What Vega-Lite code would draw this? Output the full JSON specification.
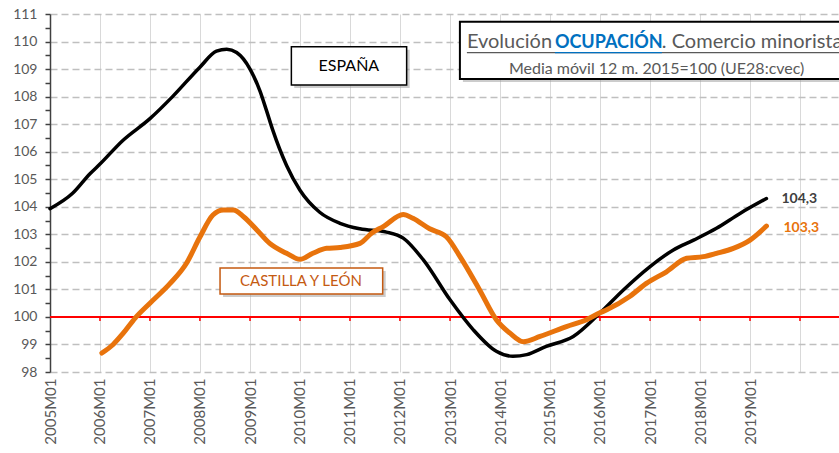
{
  "$schema": "https://vega.github.io/schema/vega-lite/v6.json",
  "width": 789,
  "height": 358,
  "autosize": {"type": "none"},
  "padding": {"left": 50, "top": 14, "right": 0, "bottom": 81},
  "background": "white",
  "config": {"view": {"stroke": null}, "font": "Lato"},
  "datasets": {
    "series": [
      {"serie": "España", "fecha": "2005-01-01", "valor": 103.93},
      {"serie": "España", "fecha": "2005-06-15", "valor": 104.49},
      {"serie": "España", "fecha": "2005-10-20", "valor": 105.2},
      {"serie": "España", "fecha": "2006-01-01", "valor": 105.55},
      {"serie": "España", "fecha": "2006-06-15", "valor": 106.4},
      {"serie": "España", "fecha": "2007-01-01", "valor": 107.2},
      {"serie": "España", "fecha": "2007-06-15", "valor": 108.0},
      {"serie": "España", "fecha": "2008-01-01", "valor": 109.07},
      {"serie": "España", "fecha": "2008-05-01", "valor": 109.65},
      {"serie": "España", "fecha": "2008-07-15", "valor": 109.72},
      {"serie": "España", "fecha": "2008-09-25", "valor": 109.6},
      {"serie": "España", "fecha": "2009-01-01", "valor": 109.0},
      {"serie": "España", "fecha": "2009-03-15", "valor": 108.2},
      {"serie": "España", "fecha": "2009-05-01", "valor": 107.5},
      {"serie": "España", "fecha": "2009-06-15", "valor": 106.8},
      {"serie": "España", "fecha": "2009-09-25", "valor": 105.5},
      {"serie": "España", "fecha": "2010-01-01", "valor": 104.6},
      {"serie": "España", "fecha": "2010-05-25", "valor": 103.8},
      {"serie": "España", "fecha": "2010-10-20", "valor": 103.4},
      {"serie": "España", "fecha": "2011-03-15", "valor": 103.2},
      {"serie": "España", "fecha": "2011-09-25", "valor": 103.08},
      {"serie": "España", "fecha": "2012-01-25", "valor": 102.86},
      {"serie": "España", "fecha": "2012-06-20", "valor": 102.07},
      {"serie": "España", "fecha": "2013-01-01", "valor": 100.62},
      {"serie": "España", "fecha": "2013-06-20", "valor": 99.53},
      {"serie": "España", "fecha": "2013-12-05", "valor": 98.75},
      {"serie": "España", "fecha": "2014-04-05", "valor": 98.57},
      {"serie": "España", "fecha": "2014-07-15", "valor": 98.63},
      {"serie": "España", "fecha": "2014-12-05", "valor": 98.93},
      {"serie": "España", "fecha": "2015-06-20", "valor": 99.29},
      {"serie": "España", "fecha": "2016-01-01", "valor": 100.14},
      {"serie": "España", "fecha": "2016-06-20", "valor": 100.98},
      {"serie": "España", "fecha": "2017-01-01", "valor": 101.83},
      {"serie": "España", "fecha": "2017-06-20", "valor": 102.43},
      {"serie": "España", "fecha": "2017-11-15", "valor": 102.79},
      {"serie": "España", "fecha": "2018-05-01", "valor": 103.22},
      {"serie": "España", "fecha": "2018-10-20", "valor": 103.76},
      {"serie": "España", "fecha": "2019-05-01", "valor": 104.3},
      {"serie": "Castilla y León", "fecha": "2006-01-15", "valor": 98.69},
      {"serie": "Castilla y León", "fecha": "2006-04-05", "valor": 98.99},
      {"serie": "Castilla y León", "fecha": "2006-06-20", "valor": 99.41},
      {"serie": "Castilla y León", "fecha": "2006-09-15", "valor": 99.96},
      {"serie": "Castilla y León", "fecha": "2007-01-01", "valor": 100.5},
      {"serie": "Castilla y León", "fecha": "2007-05-25", "valor": 101.2},
      {"serie": "Castilla y León", "fecha": "2007-09-25", "valor": 101.95},
      {"serie": "Castilla y León", "fecha": "2008-01-01", "valor": 102.9},
      {"serie": "Castilla y León", "fecha": "2008-04-05", "valor": 103.7},
      {"serie": "Castilla y León", "fecha": "2008-06-20", "valor": 103.88},
      {"serie": "Castilla y León", "fecha": "2008-09-01", "valor": 103.88},
      {"serie": "Castilla y León", "fecha": "2008-11-15", "valor": 103.64},
      {"serie": "Castilla y León", "fecha": "2009-02-20", "valor": 103.16},
      {"serie": "Castilla y León", "fecha": "2009-05-25", "valor": 102.67},
      {"serie": "Castilla y León", "fecha": "2009-09-25", "valor": 102.31},
      {"serie": "Castilla y León", "fecha": "2010-01-01", "valor": 102.09},
      {"serie": "Castilla y León", "fecha": "2010-04-05", "valor": 102.31},
      {"serie": "Castilla y León", "fecha": "2010-07-15", "valor": 102.49},
      {"serie": "Castilla y León", "fecha": "2010-10-20", "valor": 102.52},
      {"serie": "Castilla y León", "fecha": "2011-03-15", "valor": 102.67},
      {"serie": "Castilla y León", "fecha": "2011-06-10", "valor": 103.05},
      {"serie": "Castilla y León", "fecha": "2011-09-01", "valor": 103.28},
      {"serie": "Castilla y León", "fecha": "2012-01-25", "valor": 103.72},
      {"serie": "Castilla y León", "fecha": "2012-04-05", "valor": 103.58},
      {"serie": "Castilla y León", "fecha": "2012-08-05", "valor": 103.2},
      {"serie": "Castilla y León", "fecha": "2012-12-05", "valor": 102.91},
      {"serie": "Castilla y León", "fecha": "2013-03-15", "valor": 102.19},
      {"serie": "Castilla y León", "fecha": "2013-08-05", "valor": 100.98},
      {"serie": "Castilla y León", "fecha": "2013-12-05", "valor": 99.9},
      {"serie": "Castilla y León", "fecha": "2014-03-15", "valor": 99.41},
      {"serie": "Castilla y León", "fecha": "2014-06-20", "valor": 99.1},
      {"serie": "Castilla y León", "fecha": "2014-10-20", "valor": 99.29},
      {"serie": "Castilla y León", "fecha": "2015-05-01", "valor": 99.65},
      {"serie": "Castilla y León", "fecha": "2015-09-25", "valor": 99.9},
      {"serie": "Castilla y León", "fecha": "2016-01-01", "valor": 100.15},
      {"serie": "Castilla y León", "fecha": "2016-02-20", "valor": 100.26},
      {"serie": "Castilla y León", "fecha": "2016-08-05", "valor": 100.74},
      {"serie": "Castilla y León", "fecha": "2016-12-05", "valor": 101.22},
      {"serie": "Castilla y León", "fecha": "2017-05-01", "valor": 101.64},
      {"serie": "Castilla y León", "fecha": "2017-09-25", "valor": 102.13},
      {"serie": "Castilla y León", "fecha": "2018-01-25", "valor": 102.19},
      {"serie": "Castilla y León", "fecha": "2018-05-01", "valor": 102.31},
      {"serie": "Castilla y León", "fecha": "2018-09-01", "valor": 102.49},
      {"serie": "Castilla y León", "fecha": "2019-01-01", "valor": 102.79},
      {"serie": "Castilla y León", "fecha": "2019-05-01", "valor": 103.3}
    ],
    "fin": [
      {"serie": "España", "fecha": "2019-05-01", "valor": 104.3, "texto": "104,3"},
      {"serie": "Castilla y León", "fecha": "2019-05-01", "valor": 103.3, "texto": "103,3"}
    ],
    "anios": [
      {"fecha": "2006-01-01"}, {"fecha": "2007-01-01"}, {"fecha": "2008-01-01"},
      {"fecha": "2009-01-01"}, {"fecha": "2010-01-01"}, {"fecha": "2011-01-01"},
      {"fecha": "2012-01-01"}, {"fecha": "2013-01-01"}, {"fecha": "2014-01-01"},
      {"fecha": "2015-01-01"}, {"fecha": "2016-01-01"}, {"fecha": "2017-01-01"},
      {"fecha": "2018-01-01"}, {"fecha": "2019-01-01"}, {"fecha": "2020-01-01"}
    ]
  },
  "layer": [
    {
      "data": {"name": "series"},
      "mark": {"type": "line", "interpolate": "monotone", "strokeOpacity": 0},
      "encoding": {
        "x": {
          "field": "fecha",
          "type": "temporal",
          "scale": {
            "type": "utc",
            "domain": [
              {"year": 2005, "month": 1, "date": 1, "utc": true},
              {"year": 2020, "month": 10, "date": 12, "utc": true}
            ]
          },
          "axis": {
            "tickCount": {"interval": "year", "step": 1},
            "labelExpr": "utcyear(datum.value) > 2019 ? '' : utcFormat(datum.value, '%YM%m')",
            "labelAngle": -90,
            "labelFontSize": 15,
            "labelColor": "#595959",
            "labelPadding": 6,
            "labelOverlap": false,
            "ticks": false,
            "domain": false,
            "grid": true,
            "gridColor": "#d9d9d9",
            "gridWidth": 1,
            "title": null
          }
        },
        "y": {
          "field": "valor",
          "type": "quantitative",
          "scale": {"domain": [98, 111], "nice": false, "zero": false},
          "axis": {
            "tickCount": 26,
            "labelExpr": "datum.value % 1 === 0 ? format(datum.value, 'd') : ''",
            "labelOverlap": false,
            "labelFontSize": 14,
            "labelColor": "#595959",
            "labelPadding": 8,
            "tickSize": 5,
            "tickColor": "#404040",
            "tickWidth": 1.5,
            "domainColor": "#404040",
            "domainWidth": 1.5,
            "grid": true,
            "gridDash": [7, 4],
            "gridColor": "#bfbfbf",
            "gridWidth": 1.5,
            "gridOpacity": {"condition": {"test": "datum.value % 1 !== 0 || datum.value === 100", "value": 0}, "value": 1},
            "title": null
          }
        },
        "detail": {"field": "serie", "type": "nominal"}
      }
    },
    {
      "data": {"values": [{}]},
      "mark": {"type": "rule", "color": "#FF0000", "strokeWidth": 2},
      "encoding": {"y": {"datum": 100, "type": "quantitative"}}
    },
    {
      "data": {"name": "anios"},
      "mark": {"type": "rule", "color": "#FF0000", "strokeWidth": 1.5},
      "encoding": {
        "x": {"field": "fecha", "type": "temporal"},
        "y": {"datum": 100, "type": "quantitative"},
        "y2": {"datum": 99.85}
      }
    },
    {
      "data": {"name": "series"},
      "mark": {"type": "line", "interpolate": "monotone", "strokeCap": "round"},
      "encoding": {
        "x": {"field": "fecha", "type": "temporal"},
        "y": {"field": "valor", "type": "quantitative"},
        "color": {
          "field": "serie",
          "type": "nominal",
          "scale": {"domain": ["España", "Castilla y León"], "range": ["#000000", "#E8730C"]},
          "legend": null
        },
        "strokeWidth": {
          "field": "serie",
          "type": "nominal",
          "scale": {"domain": ["España", "Castilla y León"], "range": [3.5, 5]},
          "legend": null
        }
      }
    },
    {
      "data": {"name": "fin"},
      "transform": [{"filter": "datum.serie === 'España'"}],
      "mark": {"type": "text", "align": "left", "baseline": "middle", "dx": 15, "fontSize": 14, "fontWeight": "bold", "color": "#404040"},
      "encoding": {
        "x": {"field": "fecha", "type": "temporal"},
        "y": {"field": "valor", "type": "quantitative"},
        "text": {"field": "texto"}
      }
    },
    {
      "data": {"name": "fin"},
      "transform": [{"filter": "datum.serie === 'Castilla y León'"}],
      "mark": {"type": "text", "align": "left", "baseline": "middle", "dx": 17, "dy": 2, "fontSize": 14, "fontWeight": "bold", "color": "#E8730C"},
      "encoding": {
        "x": {"field": "fecha", "type": "temporal"},
        "y": {"field": "valor", "type": "quantitative"},
        "text": {"field": "texto"}
      }
    },
    {
      "data": {"values": [{}]},
      "mark": {"type": "rect", "fill": "#9a9a9a", "opacity": 0.5},
      "encoding": {
        "x": {"datum": {"year": 2009, "month": 11, "date": 20, "utc": true}, "type": "temporal"},
        "x2": {"datum": {"year": 2012, "month": 3, "date": 12, "utc": true}},
        "y": {"datum": 109.7, "type": "quantitative"},
        "y2": {"datum": 108.31}
      }
    },
    {
      "data": {"values": [{}]},
      "mark": {"type": "rect", "fill": "white", "stroke": "#000000", "strokeWidth": 1.5},
      "encoding": {
        "x": {"datum": {"year": 2009, "month": 10, "date": 30, "utc": true}, "type": "temporal"},
        "x2": {"datum": {"year": 2012, "month": 2, "date": 19, "utc": true}},
        "y": {"datum": 109.81, "type": "quantitative"},
        "y2": {"datum": 108.42}
      }
    },
    {
      "data": {"values": [{}]},
      "mark": {"type": "text", "text": "ESPAÑA", "fontSize": 16, "color": "#000000", "align": "center", "baseline": "middle"},
      "encoding": {
        "x": {"datum": {"year": 2010, "month": 12, "date": 24, "utc": true}, "type": "temporal"},
        "y": {"datum": 109.11, "type": "quantitative"}
      }
    },
    {
      "data": {"values": [{}]},
      "mark": {"type": "rect", "fill": "#9a9a9a", "opacity": 0.5},
      "encoding": {
        "x": {"datum": {"year": 2008, "month": 6, "date": 18, "utc": true}, "type": "temporal"},
        "x2": {"datum": {"year": 2011, "month": 9, "date": 19, "utc": true}},
        "y": {"datum": 101.67, "type": "quantitative"},
        "y2": {"datum": 100.72}
      }
    },
    {
      "data": {"values": [{}]},
      "mark": {"type": "rect", "fill": "white", "stroke": "#C55A11", "strokeWidth": 1.5},
      "encoding": {
        "x": {"datum": {"year": 2008, "month": 5, "date": 27, "utc": true}, "type": "temporal"},
        "x2": {"datum": {"year": 2011, "month": 8, "date": 28, "utc": true}},
        "y": {"datum": 101.78, "type": "quantitative"},
        "y2": {"datum": 100.83}
      }
    },
    {
      "data": {"values": [{}]},
      "mark": {"type": "text", "text": "CASTILLA Y LEÓN", "fontSize": 15, "color": "#C55A11", "align": "center", "baseline": "middle"},
      "encoding": {
        "x": {"datum": {"year": 2010, "month": 1, "date": 8, "utc": true}, "type": "temporal"},
        "y": {"datum": 101.31, "type": "quantitative"}
      }
    },
    {
      "data": {"values": [{}]},
      "mark": {"type": "rect", "fill": "#9a9a9a", "opacity": 0.5},
      "encoding": {
        "x": {"datum": {"year": 2013, "month": 4, "date": 5, "utc": true}, "type": "temporal"},
        "x2": {"datum": {"year": 2021, "month": 6, "date": 1, "utc": true}},
        "y": {"datum": 110.61, "type": "quantitative"},
        "y2": {"datum": 108.53}
      }
    },
    {
      "data": {"values": [{}]},
      "mark": {"type": "rect", "fill": "white", "stroke": "#000000", "strokeWidth": 2},
      "encoding": {
        "x": {"datum": {"year": 2013, "month": 3, "date": 14, "utc": true}, "type": "temporal"},
        "x2": {"datum": {"year": 2021, "month": 6, "date": 1, "utc": true}},
        "y": {"datum": 110.72, "type": "quantitative"},
        "y2": {"datum": 108.64}
      }
    },
    {
      "data": {"values": [{}]},
      "mark": {"type": "text", "text": "Evolución ", "fontSize": 20, "color": "#595959", "align": "left", "baseline": "alphabetic"},
      "encoding": {
        "x": {"datum": {"year": 2013, "month": 5, "date": 4, "utc": true}, "type": "temporal"},
        "y": {"datum": 109.76, "type": "quantitative"}
      }
    },
    {
      "data": {"values": [{}]},
      "mark": {"type": "text", "text": "OCUPACIÓN", "fontSize": 18, "fontWeight": "bold", "color": "#0070C0", "align": "left", "baseline": "alphabetic"},
      "encoding": {
        "x": {"datum": {"year": 2015, "month": 2, "date": 6, "utc": true}, "type": "temporal"},
        "y": {"datum": 109.76, "type": "quantitative"}
      }
    },
    {
      "data": {"values": [{}]},
      "mark": {"type": "text", "text": ". Comercio minorista", "fontSize": 20, "color": "#595959", "align": "left", "baseline": "alphabetic"},
      "encoding": {
        "x": {"datum": {"year": 2017, "month": 3, "date": 28, "utc": true}, "type": "temporal"},
        "y": {"datum": 109.76, "type": "quantitative"}
      }
    },
    {
      "data": {"values": [{}]},
      "mark": {"type": "rule", "color": "#595959", "strokeWidth": 1.3},
      "encoding": {
        "x": {"datum": {"year": 2013, "month": 5, "date": 4, "utc": true}, "type": "temporal"},
        "x2": {"datum": {"year": 2021, "month": 6, "date": 1, "utc": true}},
        "y": {"datum": 109.6, "type": "quantitative"}
      }
    },
    {
      "data": {"values": [{}]},
      "mark": {"type": "rule", "color": "#0070C0", "strokeWidth": 1.3},
      "encoding": {
        "x": {"datum": {"year": 2015, "month": 2, "date": 6, "utc": true}, "type": "temporal"},
        "x2": {"datum": {"year": 2017, "month": 3, "date": 28, "utc": true}},
        "y": {"datum": 109.6, "type": "quantitative"}
      }
    },
    {
      "data": {"values": [{}]},
      "mark": {"type": "text", "text": "Media móvil 12 m. 2015=100 (UE28:cvec)", "fontSize": 16, "color": "#595959", "align": "center", "baseline": "middle"},
      "encoding": {
        "x": {"datum": {"year": 2017, "month": 2, "date": 18, "utc": true}, "type": "temporal"},
        "y": {"datum": 109.0, "type": "quantitative"}
      }
    }
  ]
}
